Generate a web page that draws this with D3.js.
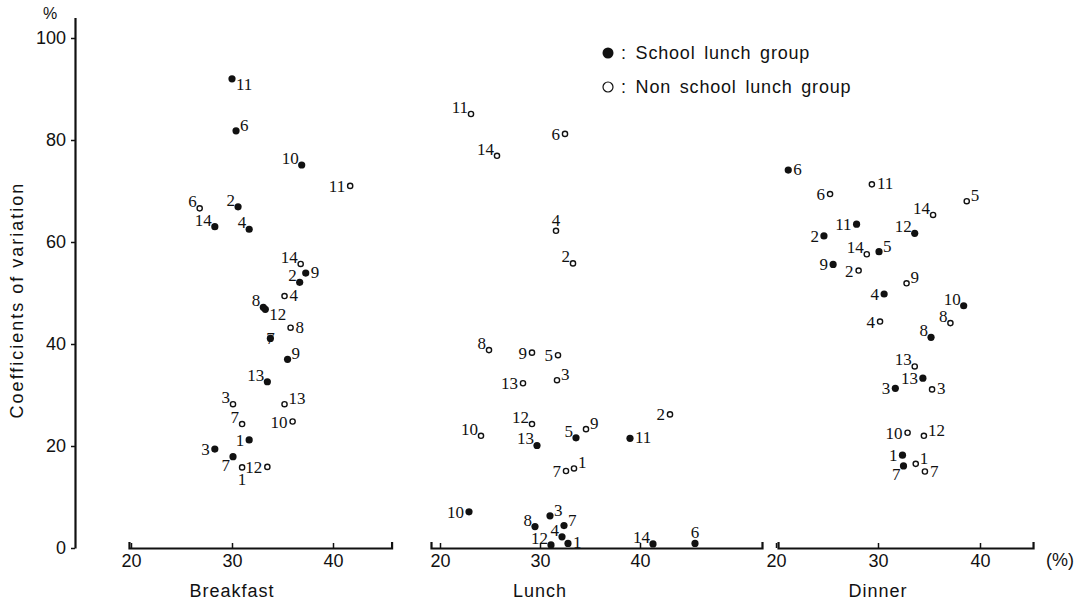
<!DOCTYPE html>
<html>
<head>
<meta charset="utf-8">
<script src="https://cdn.jsdelivr.net/npm/d3@7"></script>
<style>
  body { margin: 0; background: #fff; }
  svg { display: block; }
  .tick text, .lab { font-family: "Liberation Sans", Arial, sans-serif; fill: #111; }
  .pt text { font-family: "Liberation Serif", serif; font-size: 17px; fill: #111; }
</style>
</head>
<body>
<svg id="chart" width="1085" height="608"></svg>
<script>
// meals (panels) and axis ticks
const meals = ["Breakfast", "Lunch", "Dinner"];
const xTickValues = [20, 30, 40];
const yTickValues = [0, 20, 40, 60, 80, 100];
const groups = ["School lunch group", "Non school lunch group"];

// [subject no, school lunch? (1 = yes), % of intake, coefficient of variation]
const breakfastPts = [
  [11, 1, 30.0, 92.0], [6, 1, 30.4, 81.8], [10, 1, 36.9, 75.1], [6, 0, 26.8, 66.6],
  [14, 1, 28.3, 63.0], [2, 1, 30.6, 66.9], [4, 1, 31.7, 62.5], [11, 0, 41.7, 71.0],
  [14, 0, 36.8, 55.7], [9, 1, 37.3, 53.9], [2, 1, 36.7, 52.1], [4, 0, 35.2, 49.4],
  [8, 1, 33.1, 47.2], [12, 1, 33.3, 46.8], [8, 0, 35.8, 43.2], [7, 1, 33.8, 41.1],
  [9, 1, 35.5, 37.0], [13, 1, 33.5, 32.6], [3, 0, 30.1, 28.2], [13, 0, 35.2, 28.2],
  [7, 0, 31.0, 24.3], [10, 0, 36.0, 24.8], [1, 1, 31.7, 21.2], [3, 1, 28.3, 19.4],
  [7, 1, 30.1, 17.9], [12, 0, 33.5, 15.9], [1, 0, 31.0, 15.8]
];
const lunchPts = [
  [11, 0, 23.1, 85.1], [6, 0, 32.5, 81.2], [14, 0, 25.7, 76.9], [4, 0, 31.6, 62.2],
  [2, 0, 33.3, 55.8], [8, 0, 24.9, 38.8], [9, 0, 29.2, 38.3], [5, 0, 31.8, 37.8],
  [3, 0, 31.7, 32.9], [13, 0, 28.3, 32.3], [12, 0, 29.2, 24.3], [10, 0, 24.1, 22.0],
  [13, 1, 29.7, 20.1], [5, 1, 33.6, 21.6], [9, 0, 34.6, 23.3], [11, 1, 39.0, 21.5],
  [2, 0, 43.0, 26.2], [7, 0, 32.6, 15.1], [1, 0, 33.4, 15.6], [10, 1, 22.9, 7.1],
  [3, 1, 31.0, 6.3], [7, 1, 32.4, 4.4], [8, 1, 29.5, 4.2], [12, 1, 31.1, 0.6],
  [4, 1, 32.2, 2.2], [1, 1, 32.8, 0.9], [14, 1, 41.3, 0.8], [6, 1, 45.5, 0.9]
];
const dinnerPts = [
  [6, 1, 21.2, 74.1], [6, 0, 25.3, 69.4], [11, 0, 29.4, 71.3], [5, 0, 38.7, 68.0],
  [14, 0, 35.4, 65.3], [11, 1, 27.9, 63.5], [12, 1, 33.6, 61.7], [2, 1, 24.7, 61.2],
  [14, 0, 28.9, 57.6], [5, 1, 30.1, 58.1], [9, 1, 25.6, 55.6], [2, 0, 28.1, 54.4],
  [9, 0, 32.8, 51.9], [4, 1, 30.6, 49.8], [10, 1, 38.4, 47.5], [4, 0, 30.2, 44.4],
  [8, 0, 37.1, 44.1], [8, 1, 35.2, 41.3], [13, 0, 33.6, 35.6], [13, 1, 34.4, 33.3],
  [3, 1, 31.7, 31.3], [3, 0, 35.3, 31.1], [10, 0, 32.9, 22.6], [12, 0, 34.5, 22.0],
  [1, 1, 32.4, 18.2], [7, 1, 32.5, 16.1], [1, 0, 33.7, 16.5], [7, 0, 34.6, 15.0]
];

// where each number sits relative to its point (same order as the points)
const breakfastSide = ["rl","ru","lu","lu","lu","lu","lu","l","lu","r","lu","r","lu","rl","r","o",
  "ru","lu","lu","ru","lu","l","l","l","ll","l","b"];
const lunchSide = ["lu","l","lu","t","lu","lu","l","l","ru","l","lu","lu","lu","lu","ru","r",
  "l","l","ru","l","ru","ru","lu","lu","lu","r","lu","t"];
const dinnerSide = ["r","l","r","ru","lu","l","lu","l","lu","ru","l","l","ru","l","lu","l",
  "lu","lu","lu","l","l","r","l","ru","l","ll","ru","r"];

const sideOffset = {
  r: [5, 5, "start"], rl: [4, 11, "start"], ru: [4, 0, "start"],
  l: [-5, 6, "end"], ll: [-3, 14, "end"], lu: [-3, -1, "end"],
  t: [0, -5, "middle"], b: [0, 18, "middle"], o: [0, 6, "middle"]
};

const svg = d3.select("#chart");
const ink = "#111";

const y = d3.scaleLinear().domain([0, 104]).range([548, 17.6]);

// y axis
const yAxis = svg.append("g")
  .attr("transform", "translate(75,0)")
  .call(d3.axisLeft(y).tickValues(yTickValues).tickSize(4).tickSizeOuter(0).tickPadding(5));
yAxis.select(".domain").attr("stroke", ink).attr("stroke-width", 2.2);
yAxis.selectAll(".tick line").attr("stroke", ink).attr("stroke-width", 1.5);
yAxis.selectAll(".tick text").attr("font-size", 18);

svg.append("text").attr("class", "lab")
  .attr("x", 50).attr("y", 19).attr("text-anchor", "middle")
  .attr("font-size", 16).text("%");

svg.append("text").attr("class", "lab")
  .attr("transform", "translate(23,300) rotate(-90)")
  .attr("text-anchor", "middle").attr("font-size", 18)
  .attr("letter-spacing", 2).text("Coefficients of variation");

// panels: pixel positions of 20% and 40%, and how far each axis line runs
const panels = [
  { name: meals[0], pts: breakfastPts, side: breakfastSide, at20: 131, at40: 333, lo: 19.8, hi: 45.8 },
  { name: meals[1], pts: lunchPts, side: lunchSide, at20: 440, at40: 640, lo: 19.1, hi: 52.2 },
  { name: meals[2], pts: dinnerPts, side: dinnerSide, at20: 776, at40: 980, lo: 20.2, hi: 45.2 }
];

panels.forEach(p => {
  const base = d3.scaleLinear().domain([20, 40]).range([p.at20, p.at40]);
  const x = d3.scaleLinear().domain([p.lo, p.hi]).range([base(p.lo), base(p.hi)]);

  const ax = svg.append("g")
    .attr("transform", `translate(0,${y(0)})`)
    .call(d3.axisBottom(x).tickValues(xTickValues).tickSizeInner(-5).tickSizeOuter(-6).tickPadding(6));
  ax.select(".domain").attr("stroke", ink).attr("stroke-width", 2.2);
  ax.selectAll(".tick line").attr("stroke", ink).attr("stroke-width", 1.5);
  ax.selectAll(".tick text").attr("font-size", 18);

  svg.append("text").attr("class", "lab")
    .attr("x", x(30)).attr("y", 597).attr("text-anchor", "middle")
    .attr("font-size", 18).attr("letter-spacing", 1).text(p.name);

  const g = svg.append("g").attr("class", "pt")
    .selectAll("g").data(p.pts).join("g")
    .attr("transform", d => `translate(${x(d[2])},${y(d[3])})`);

  g.append("circle")
    .attr("r", d => d[1] ? 3.6 : 2.6)
    .attr("fill", d => d[1] ? ink : "#fff")
    .attr("stroke", ink)
    .attr("stroke-width", d => d[1] ? 0 : 1.4);

  g.append("text")
    .attr("x", (d, i) => sideOffset[p.side[i]][0])
    .attr("y", (d, i) => sideOffset[p.side[i]][1])
    .attr("text-anchor", (d, i) => sideOffset[p.side[i]][2])
    .text(d => d[0]);
});

svg.append("text").attr("class", "lab")
  .attr("x", 1060).attr("y", 566).attr("text-anchor", "middle")
  .attr("font-size", 18).text("(%)");

// legend
const legend = svg.append("g").attr("transform", "translate(608,53)");
groups.forEach((name, i) => {
  legend.append("circle")
    .attr("cx", 0).attr("cy", i * 34).attr("r", i ? 5 : 5.5)
    .attr("fill", i ? "#fff" : ink).attr("stroke", ink).attr("stroke-width", i ? 1.2 : 0);
  legend.append("text").attr("class", "lab")
    .attr("x", 13).attr("y", i * 34 + 6)
    .attr("font-size", 18).attr("letter-spacing", 0.8).attr("word-spacing", 3)
    .text(": " + name);
});
</script>
</body>
</html>
